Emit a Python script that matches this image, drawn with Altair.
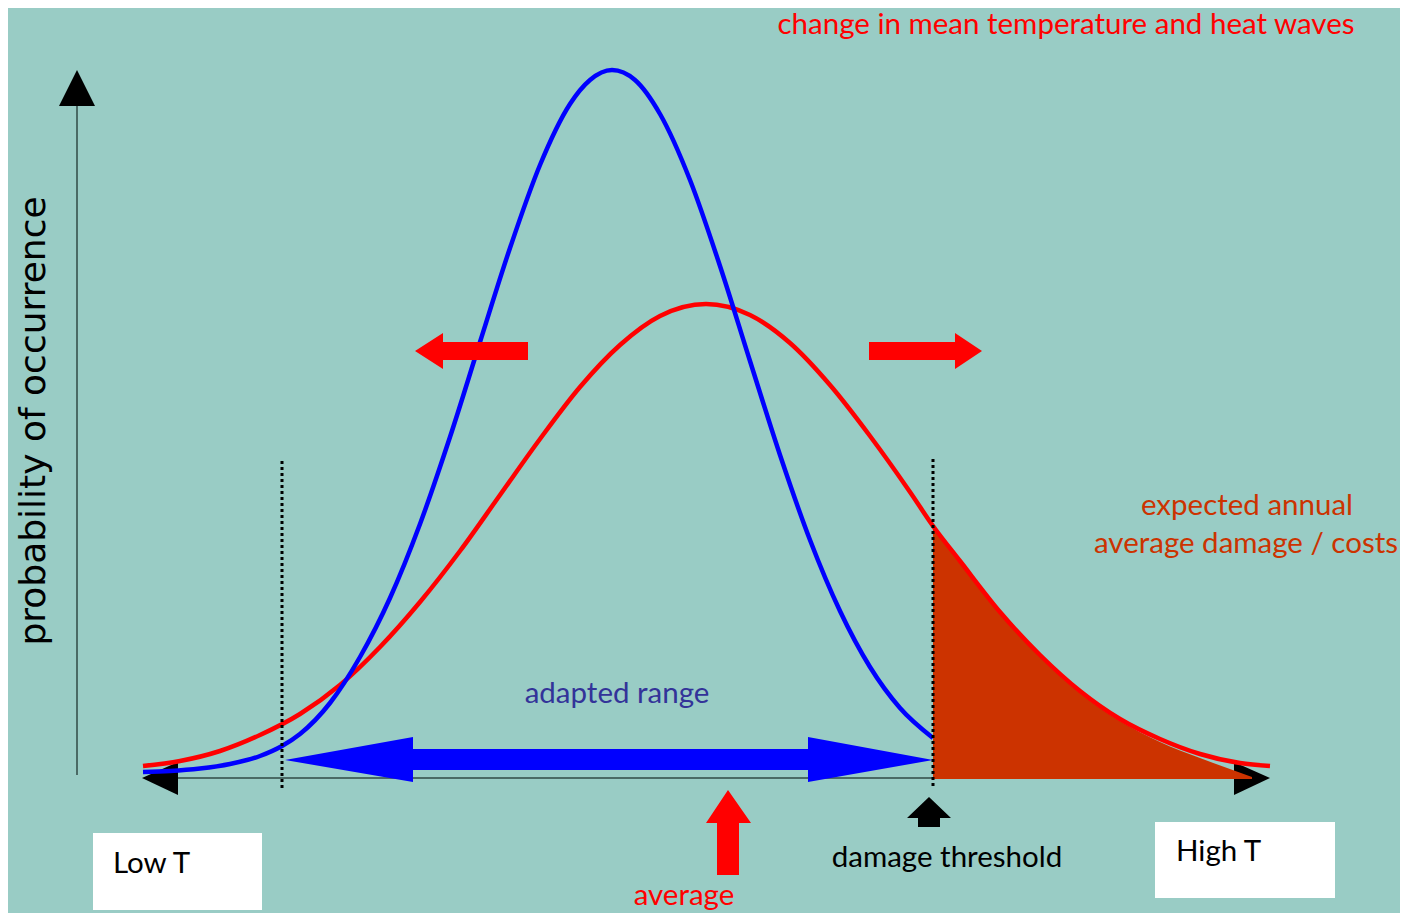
import altair as alt
import pandas as pd

BG = "#99CCC5"

# ---- bell curves (diagram units: x to the right, y downward) ----
blue_x = [143, 170, 200, 230, 260, 282, 300, 330, 360, 390, 420, 450, 480, 510, 540,
          570, 590, 612, 635, 660, 690, 720, 750, 780, 810, 840, 870, 900, 933]
blue_y = [772, 771, 768.5, 764, 756, 746, 734, 703, 657, 598, 524, 437, 342, 248, 165,
          104, 80, 70, 80, 114, 180, 266, 361, 455, 540, 611, 667, 708, 738]

red_x = [143, 180, 220, 260, 300, 340, 380, 420, 460, 500, 540, 580, 620, 660, 706,
         750, 790, 830, 870, 910, 933, 960, 1000, 1040, 1080, 1120, 1160, 1200, 1240, 1270]
red_y = [766, 761, 751, 735, 714, 685, 647, 602, 551, 495, 439, 387, 345, 316, 304,
         315, 343, 385, 436, 492, 526, 561, 612, 655, 691, 719, 739, 754, 763, 766]

damage_x = [933, 960, 1000, 1040, 1080, 1120, 1160, 1200, 1252]
damage_y = [528, 562, 613, 657, 693, 721, 742, 758, 777]
damage_base = 779

# ---- axes, thresholds ----
xaxis_x = [145, 1240]
xaxis_y = 778
yaxis_x = 77
yaxis_y = [106, 775]

thr_x = [282, 933]
thr_top = [461, 459]
thr_bottom = 789

# ---- horizontal arrow outlines (x, top, bottom) ----
arrows_h = {
    "left_red": ([415, 443, 443.01, 528], [351, 333, 342, 342], [351, 369, 360, 360]),
    "right_red": ([869, 954.99, 955, 982], [342, 342, 333, 351], [360, 360, 369, 351]),
    "blue_range": ([285, 413, 413.01, 808, 808.01, 933],
                   [760, 737, 749, 749, 737, 760], [760, 782, 770, 770, 782, 760]),
    "x_left_head": ([142, 178], [778, 762], [778, 795]),
    "x_right_head": ([1234, 1270], [762, 778], [795, 778]),
}
arrow_h_colors = {"left_red": "#FF0000", "right_red": "#FF0000", "blue_range": "#0000FF",
                  "x_left_head": "#000000", "x_right_head": "#000000"}

# ---- vertical arrow outlines (y, left, right) ----
arrows_v = {
    "y_head": ([70, 106], [77, 59], [77, 95]),
    "average": ([790, 823, 823.01, 875], [728, 706, 717, 717], [728, 751, 739, 739]),
    "threshold": ([797, 818, 818.01, 827], [929, 907, 918, 918], [929, 951, 940, 940]),
}
arrow_v_colors = {"y_head": "#000000", "average": "#FF0000", "threshold": "#000000"}

# ---- text ----
lab_text = ["change in mean temperature and heat waves", "expected annual",
            "average damage / costs", "adapted range", "damage threshold", "average"]
lab_x = [1066, 1247, 1246, 617, 947, 684]
lab_y = [34, 515, 553, 703, 867, 905]
lab_color = ["#FF0000", "#CC3300", "#CC3300", "#333399", "#000000", "#FF0000"]

box_text = ["Low T", "High T"]
box_tx = [113, 1176]
box_ty = [873, 861]
box_x1 = [93, 1155]
box_x2 = [262, 1335]
box_y1 = [833, 822]
box_y2 = [910, 898]

ylabel = "probability of occurrence"
ylabel_x = 34
ylabel_y = 421

# ---- scales ----
XS = alt.Scale(domain=[8, 1400], nice=False, zero=False)
YS = alt.Scale(domain=[8, 913], nice=False, zero=False, reverse=True)


def X(f):
    return alt.X(f, type="quantitative", scale=XS, axis=None)


def Y(f):
    return alt.Y(f, type="quantitative", scale=YS, axis=None)


layers = []

# axes lines
layers.append(alt.Chart(pd.DataFrame({"x": [xaxis_x[0]], "x2": [xaxis_x[1]], "y": [xaxis_y]}))
              .mark_rule(color="#4A6A65", strokeWidth=2)
              .encode(x=X("x"), x2="x2", y=Y("y")))
layers.append(alt.Chart(pd.DataFrame({"x": [yaxis_x], "y": [yaxis_y[0]], "y2": [yaxis_y[1]]}))
              .mark_rule(color="#4A6A65", strokeWidth=2)
              .encode(x=X("x"), y=Y("y"), y2="y2"))

# white boxes
layers.append(alt.Chart(pd.DataFrame({"x": box_x1, "x2": box_x2, "y": box_y1, "y2": box_y2}))
              .mark_rect(color="white")
              .encode(x=X("x"), x2="x2", y=Y("y"), y2="y2"))

# axis arrowheads
for k in ["x_left_head", "x_right_head"]:
    xs, t, b = arrows_h[k]
    layers.append(alt.Chart(pd.DataFrame({"x": xs, "y": t, "y2": b}))
                  .mark_area(color=arrow_h_colors[k], interpolate="linear")
                  .encode(x=X("x"), y=Y("y"), y2="y2"))
xs, l, r = arrows_v["y_head"]
layers.append(alt.Chart(pd.DataFrame({"y": xs, "x": l, "x2": r}))
              .mark_area(color="#000000", orient="horizontal", interpolate="linear")
              .encode(y=Y("y"), x=X("x"), x2="x2"))

# damage area
layers.append(alt.Chart(pd.DataFrame({"x": damage_x, "y": damage_y, "y2": [damage_base] * len(damage_x)}))
              .mark_area(color="#CC3300", interpolate="monotone")
              .encode(x=X("x"), y=Y("y"), y2="y2"))

# curves
layers.append(alt.Chart(pd.DataFrame({"x": red_x, "y": red_y}))
              .mark_line(color="#FF0000", strokeWidth=4.5, interpolate="monotone")
              .encode(x=X("x"), y=Y("y")))
layers.append(alt.Chart(pd.DataFrame({"x": blue_x, "y": blue_y}))
              .mark_line(color="#0000FF", strokeWidth=4.5, interpolate="monotone")
              .encode(x=X("x"), y=Y("y")))

# horizontal arrows
for k in ["left_red", "right_red", "blue_range"]:
    xs, t, b = arrows_h[k]
    layers.append(alt.Chart(pd.DataFrame({"x": xs, "y": t, "y2": b}))
                  .mark_area(color=arrow_h_colors[k], interpolate="linear")
                  .encode(x=X("x"), y=Y("y"), y2="y2"))

# vertical arrows
for k in ["average", "threshold"]:
    ys, l, r = arrows_v[k]
    layers.append(alt.Chart(pd.DataFrame({"y": ys, "x": l, "x2": r}))
                  .mark_area(color=arrow_v_colors[k], orient="horizontal", interpolate="linear")
                  .encode(y=Y("y"), x=X("x"), x2="x2"))

# dotted threshold lines
layers.append(alt.Chart(pd.DataFrame({"x": thr_x, "y": thr_top, "y2": [thr_bottom] * 2}))
              .mark_rule(color="#000000", strokeWidth=3, strokeDash=[3, 3])
              .encode(x=X("x"), y=Y("y"), y2="y2"))

# labels
layers.append(alt.Chart(pd.DataFrame({"x": lab_x, "y": lab_y, "t": lab_text, "c": lab_color}))
              .mark_text(font="Lato", fontSize=29.5, align="center", baseline="alphabetic")
              .encode(x=X("x"), y=Y("y"), text="t:N", color=alt.Color("c:N", scale=None)))
layers.append(alt.Chart(pd.DataFrame({"x": box_tx, "y": box_ty, "t": box_text}))
              .mark_text(font="Lato", fontSize=29.5, align="left", baseline="alphabetic", color="#000000")
              .encode(x=X("x"), y=Y("y"), text="t:N"))
layers.append(alt.Chart(pd.DataFrame({"x": [ylabel_x], "y": [ylabel_y], "t": [ylabel]}))
              .mark_text(font="DejaVu Sans", fontSize=36, align="center", baseline="middle",
                         angle=270, color="#000000")
              .encode(x=X("x"), y=Y("y"), text="t:N"))

chart = (alt.layer(*layers)
         .properties(width=1392, height=905, background=BG, padding=0,
                     autosize=alt.AutoSizeParams(type="none"))
         .configure_view(stroke=None))

chart.save("out.html", embed_options={"renderer": "svg", "actions": False})
